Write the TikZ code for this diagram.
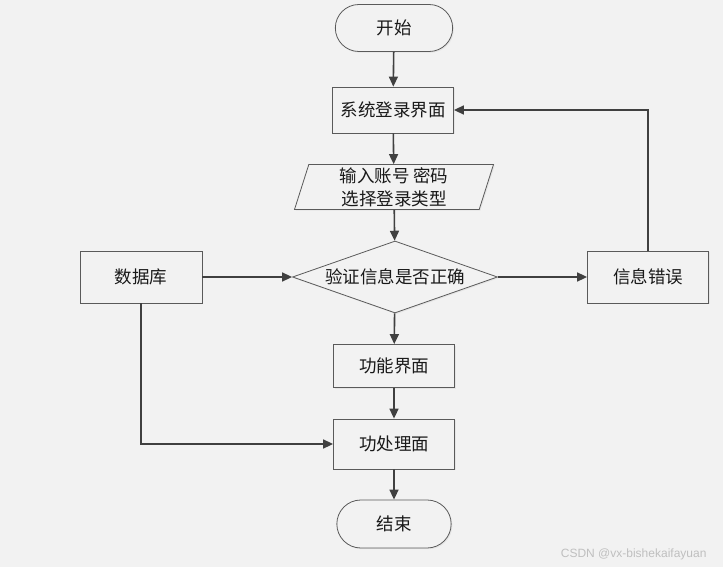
\documentclass[tikz,border=0pt]{standalone}
\usepackage{fontspec}
\newfontfamily\cjk{Noto Sans CJK SC}
\setsansfont{Liberation Sans}
\usetikzlibrary{positioning,shapes.geometric,shapes.misc,arrows.meta,shadows}

\definecolor{bgcol}{RGB}{242,242,242}
\definecolor{linecol}{RGB}{64,64,64}
\definecolor{boxcol}{RGB}{90,90,90}

\begin{document}
\begin{tikzpicture}[x=1pt,y=-1pt,
  basenode/.style={font=\cjk\fontsize{17.5}{23}\selectfont, text=black!90, draw=boxcol, fill=bgcol, line width=0.8pt,
    drop shadow={shadow xshift=1.2pt, shadow yshift=-1.2pt, fill=black!10, opacity=1}},
  termnode/.style={basenode, rounded rectangle, minimum width=124pt, minimum height=47pt},
  procnode/.style={basenode, rectangle, minimum width=121pt, minimum height=46pt},
  ionode/.style={basenode, trapezium, trapezium left angle=70, trapezium right angle=110,
    trapezium stretches body, minimum width=199pt, minimum height=45pt, inner sep=0pt, align=center},
  testnode/.style={basenode, diamond, aspect=2.85, inner sep=0pt, minimum width=205pt, minimum height=72pt},
  flow/.style={draw=linecol, line width=1.6pt, -{Triangle[length=10pt,width=9pt]}}
]
\useasboundingbox[fill=bgcol] (0,0) rectangle (723,567);

% the main column
\node[termnode] (start) at (394,28) {开始};
\node[procnode] (login) at (393,110) {系统登录界面};
\node[ionode] (input) at (394,187) {输入账号 密码\\选择登录类型};
\node[testnode] (check) at (395,277) {验证信息是否正确};
\node[procnode, minimum height=43pt] (func) at (394,366) {功能界面};
\node[procnode, minimum height=50pt] (proc) at (394,444) {功处理面};
\node[termnode, minimum width=121pt, minimum height=48pt] (stop) at (394,524) {结束};

% the side boxes
\node[procnode, minimum width=122pt, minimum height=52pt] (db) at (141,277) {数据库};
\node[procnode, minimum width=121pt, minimum height=52pt] (err) at (648,277) {信息错误};

% the edges
\draw[flow] (start) -- (login);
\draw[flow] (login) -- (input);
\draw[flow] (input) -- (check);
\draw[flow] (db) -- (check);
\draw[flow] (check) -- (err);
\draw[flow] (err.north) |- (login.east);
\draw[flow] (check) -- (func);
\draw[flow] (func) -- (proc);
\draw[flow] (db.south) |- (proc.west);
\draw[flow] (proc) -- (stop);

\node[font=\sffamily\fontsize{12}{13}\selectfont, text=black!25, anchor=east] (mark) at (710,554) {CSDN @vx-bishekaifayuan};

\end{tikzpicture}
\end{document}
